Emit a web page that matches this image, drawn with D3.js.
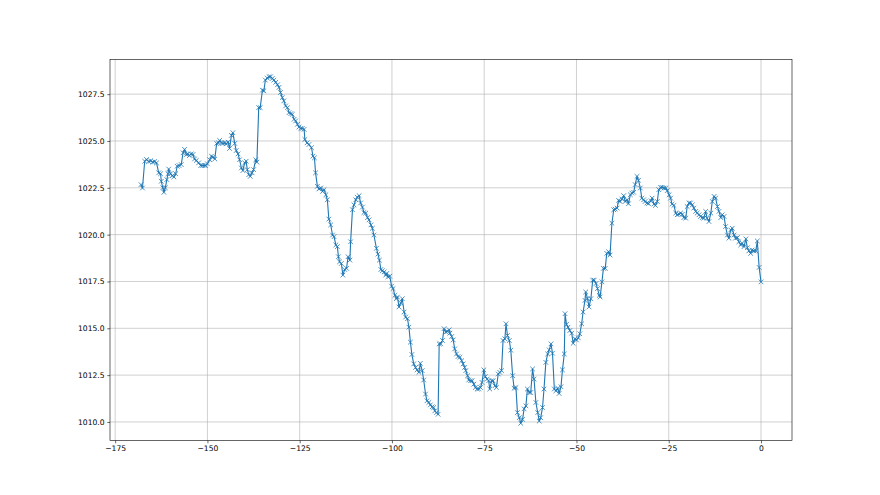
<!DOCTYPE html>
<html>
<head>
<meta charset="utf-8">
<script src="https://cdn.jsdelivr.net/npm/d3@7"></script>
<style>
  body { margin: 0; background: #fff; }
  svg { display: block; }
  .tick text { font-family: "DejaVu Sans", sans-serif; font-size: 7.6px; fill: #000; }
</style>
</head>
<body>
<svg width="880" height="495"></svg>
<script>
// hours relative to now
const hours = [
  -168.0, -167.6, -167.0, -166.5, -165.9, -165.4, -164.8, -164.3, -163.8, -163.2,
  -162.7, -162.5, -162.1, -161.8, -161.4, -161.0, -160.7, -160.5, -160.0, -159.5,
  -159.1, -158.6, -158.2, -157.7, -157.1, -156.6, -156.2, -155.7, -155.3, -154.9,
  -154.4, -153.9, -153.5, -153.0, -152.4, -151.8, -151.4, -150.9, -150.5, -150.0,
  -149.4, -148.9, -148.5, -148.0, -147.5, -147.0, -146.7, -146.2, -145.8, -145.3,
  -144.9, -144.4, -144.0, -143.5, -143.1, -142.6, -142.2, -141.7, -141.3, -140.8,
  -140.4, -139.9, -139.5, -139.2, -138.8, -138.4, -137.9, -137.5, -136.9, -136.6,
  -136.1, -135.7, -135.1, -134.7, -134.3, -133.8, -133.3, -132.9, -132.4, -132.0,
  -131.5, -131.0, -130.6, -130.2, -129.7, -129.3, -128.8, -128.3, -127.9, -127.4,
  -127.0, -126.5, -126.1, -125.6, -125.2, -124.7, -124.3, -123.8, -123.6, -123.0,
  -122.5, -121.8, -121.4, -121.0, -120.7, -120.2, -119.8, -119.3, -118.8, -118.4,
  -117.9, -117.5, -117.1, -116.6, -116.1, -115.7, -115.2, -114.8, -114.5, -114.2,
  -113.7, -113.3, -112.8, -112.3, -111.9, -111.4, -111.2, -110.7, -110.3, -109.8,
  -109.4, -108.9, -108.5, -108.0, -107.6, -107.1, -106.6, -106.2, -105.7, -105.3,
  -104.9, -104.2, -103.8, -103.4, -103.0, -102.6, -102.1, -101.7, -101.4, -101.1,
  -100.6, -100.1, -99.7, -99.2, -98.8, -98.5, -98.1, -97.6, -97.2, -96.7,
  -96.3, -95.8, -95.4, -95.0, -94.6, -94.1, -93.6, -93.2, -92.7, -92.3,
  -91.8, -91.4, -90.9, -90.5, -90.0, -89.6, -89.1, -88.7, -88.4, -87.9,
  -87.5, -87.2, -86.8, -86.3, -85.9, -85.4, -85.0, -84.5, -84.3, -83.8,
  -83.4, -83.0, -82.5, -82.1, -81.6, -81.1, -80.7, -80.3, -80.0, -79.5,
  -79.2, -78.7, -78.3, -77.8, -77.4, -76.9, -76.5, -76.0, -75.6, -75.1,
  -74.7, -74.2, -73.8, -73.5, -73.0, -72.6, -72.1, -71.7, -71.2, -70.8,
  -70.3, -69.9, -69.4, -69.1, -68.7, -68.2, -67.8, -67.3, -66.9, -66.4,
  -66.0, -65.5, -65.1, -64.6, -64.2, -63.7, -63.3, -62.8, -62.4, -61.9,
  -61.5, -61.0, -60.5, -60.1, -59.7, -59.2, -58.8, -58.3, -57.8, -57.4,
  -56.9, -56.5, -56.0, -55.6, -55.1, -54.7, -54.2, -53.8, -53.3, -53.1,
  -52.7, -52.3, -51.8, -51.3, -50.9, -50.4, -50.0, -49.5, -49.1, -48.6,
  -48.2, -47.7, -47.5, -47.0, -46.6, -46.1, -45.6, -45.2, -44.7, -44.3,
  -43.8, -43.6, -43.1, -42.7, -42.2, -41.8, -41.3, -40.9, -40.4, -39.9,
  -39.5, -39.0, -38.6, -38.2, -37.7, -37.2, -36.8, -36.3, -35.9, -35.4,
  -35.0, -34.5, -34.1, -33.6, -33.2, -32.7, -32.3, -31.8, -31.4, -30.9,
  -30.5, -29.8, -29.5, -29.0, -28.6, -28.1, -27.7, -27.2, -26.8, -26.3,
  -25.8, -25.4, -24.9, -24.5, -24.1, -23.6, -23.1, -22.7, -22.2, -21.8,
  -21.3, -20.9, -20.4, -20.0, -19.5, -19.1, -18.6, -18.2, -17.7, -17.3,
  -16.8, -16.4, -15.9, -15.5, -15.0, -14.6, -14.1, -13.6, -13.2, -12.7,
  -12.3, -11.8, -11.4, -10.9, -10.5, -10.0, -9.6, -9.1, -8.7, -8.2,
  -7.8, -7.3, -6.9, -6.4, -6.0, -5.5, -5.1, -4.6, -4.1, -3.7,
  -3.3, -2.8, -2.4, -1.9, -1.4, -1.0, -0.5, 0.0
];
// pressure, hPa
const pressure = [
  1022.67, 1022.49, 1023.92, 1024.01, 1023.90, 1023.94, 1023.87, 1023.90, 1023.83, 1023.30,
  1023.25, 1022.85, 1022.50, 1022.26, 1022.50, 1022.94, 1023.25, 1023.50, 1023.25, 1023.15,
  1023.08, 1023.25, 1023.65, 1023.69, 1023.74, 1024.37, 1024.55, 1024.28, 1024.31, 1024.22,
  1024.31, 1024.28, 1024.04, 1023.96, 1023.83, 1023.69, 1023.69, 1023.69, 1023.69, 1023.78,
  1024.00, 1024.19, 1024.13, 1024.04, 1024.87, 1024.90, 1025.03, 1024.90, 1024.87, 1024.90,
  1024.85, 1024.94, 1024.60, 1025.30, 1025.44, 1024.87, 1024.49, 1024.31, 1024.00, 1023.56,
  1023.42, 1023.83, 1023.92, 1023.47, 1023.20, 1023.11, 1023.30, 1023.47, 1024.00, 1023.87,
  1026.78, 1026.78, 1027.71, 1027.68, 1028.25, 1028.36, 1028.43, 1028.43, 1028.34, 1028.25,
  1028.13, 1028.00, 1027.86, 1027.59, 1027.32, 1027.14, 1026.87, 1026.78, 1026.51, 1026.46,
  1026.42, 1026.16, 1026.07, 1025.89, 1025.74, 1025.67, 1025.67, 1025.62, 1025.08, 1024.90,
  1024.81, 1024.64, 1024.19, 1024.10, 1023.30, 1022.58, 1022.44, 1022.49, 1022.31, 1022.40,
  1022.13, 1021.86, 1020.83, 1020.52, 1019.98, 1019.89, 1019.45, 1019.36, 1018.82, 1018.55,
  1018.46, 1017.84, 1018.14, 1018.20, 1018.82, 1018.64, 1019.62, 1021.33, 1021.59, 1021.86,
  1022.00, 1022.08, 1021.69, 1021.47, 1021.18, 1021.15, 1020.91, 1020.79, 1020.52, 1020.34,
  1019.98, 1019.27, 1018.96, 1018.64, 1018.14, 1018.07, 1018.01, 1017.84, 1017.93, 1017.75,
  1017.78, 1017.25, 1017.12, 1016.76, 1016.58, 1016.67, 1016.14, 1016.35, 1016.58, 1015.87,
  1015.60, 1015.51, 1015.06, 1014.26, 1013.60, 1013.10, 1012.91, 1012.78, 1012.65, 1013.13,
  1012.74, 1012.24, 1011.49, 1011.13, 1011.04, 1010.91, 1010.81, 1010.77, 1010.59, 1010.50,
  1010.41, 1014.17, 1014.17, 1014.35, 1014.98, 1014.80, 1014.83, 1014.92, 1014.74, 1014.56,
  1014.38, 1013.90, 1013.63, 1013.49, 1013.45, 1013.27, 1013.10, 1012.91, 1012.74, 1012.47,
  1012.24, 1012.20, 1012.20, 1012.02, 1011.84, 1011.76, 1011.76, 1011.84, 1012.11, 1012.78,
  1012.42, 1012.29, 1012.20, 1011.76, 1012.20, 1012.20, 1011.93, 1011.84, 1012.56, 1012.65,
  1012.74, 1014.35, 1014.44, 1015.24, 1014.62, 1014.35, 1013.83, 1012.47, 1011.80, 1011.84,
  1010.50, 1010.23, 1009.93, 1010.14, 1010.70, 1010.86, 1011.76, 1011.57, 1011.57, 1012.83,
  1012.29, 1011.04, 1010.50, 1010.05, 1010.23, 1010.77, 1011.76, 1013.18, 1013.63, 1013.85,
  1014.17, 1013.67, 1011.76, 1011.66, 1011.80, 1011.52, 1011.88, 1012.78, 1013.63, 1015.78,
  1015.21, 1015.06, 1014.88, 1014.74, 1014.20, 1014.44, 1014.38, 1014.49, 1014.71, 1015.24,
  1015.87, 1016.49, 1016.94, 1016.58, 1016.14, 1016.58, 1017.57, 1017.57, 1017.39, 1017.12,
  1016.76, 1016.67, 1017.48, 1018.20, 1018.20, 1019.00, 1019.09, 1018.91, 1020.61, 1021.33,
  1021.36, 1021.42, 1021.83, 1021.77, 1021.90, 1022.08, 1021.77, 1021.86, 1021.65, 1022.13,
  1022.22, 1022.26, 1022.67, 1023.11, 1022.90, 1022.49, 1021.95, 1021.86, 1021.77, 1021.69,
  1021.66, 1021.81, 1021.95, 1021.63, 1021.56, 1021.77, 1022.40, 1022.52, 1022.52, 1022.49,
  1022.49, 1022.35, 1022.13, 1021.95, 1021.63, 1021.56, 1021.15, 1021.06, 1021.09, 1021.15,
  1021.09, 1020.91, 1020.88, 1021.50, 1021.69, 1021.69, 1021.59, 1021.42, 1021.24, 1021.15,
  1021.06, 1020.97, 1020.91, 1020.88, 1021.24, 1020.88, 1020.70, 1021.15, 1021.77, 1022.04,
  1021.95, 1021.50, 1021.24, 1020.91, 1021.06, 1020.97, 1020.43, 1019.98, 1019.81, 1020.25,
  1020.34, 1019.98, 1019.81, 1019.84, 1019.62, 1019.45, 1019.54, 1019.36, 1019.77, 1019.30,
  1019.13, 1019.00, 1019.18, 1019.13, 1019.13, 1019.66, 1018.25, 1017.48
];
const xTicks = [-175, -150, -125, -100, -75, -50, -25, 0];
const yTicks = [1010.0, 1012.5, 1015.0, 1017.5, 1020.0, 1022.5, 1025.0, 1027.5];

const svg = d3.select('svg');
const margin = { top: 59.4, right: 88, bottom: 54.4, left: 110 };
const width = 880 - margin.left - margin.right;
const height = 495 - margin.top - margin.bottom;
const color = '#1f77b4';

const g = svg.append('g').attr('transform', `translate(${margin.left},${margin.top})`);

// matplotlib style 5% padding
const xExt = d3.extent(hours), yExt = d3.extent(pressure);
const xPad = (xExt[1] - xExt[0]) * 0.05, yPad = (yExt[1] - yExt[0]) * 0.05;
const x = d3.scaleLinear().domain([xExt[0] - xPad, xExt[1] + xPad]).range([0, width]);
const y = d3.scaleLinear().domain([yExt[0] - yPad, yExt[1] + yPad]).range([height, 0]);

// grid
g.append('g').selectAll('line').data(xTicks).enter().append('line')
  .attr('x1', d => x(d)).attr('x2', d => x(d)).attr('y1', 0).attr('y2', height)
  .attr('stroke', '#b0b0b0').attr('stroke-width', 0.6);
g.append('g').selectAll('line').data(yTicks).enter().append('line')
  .attr('y1', d => y(d)).attr('y2', d => y(d)).attr('x1', 0).attr('x2', width)
  .attr('stroke', '#b0b0b0').attr('stroke-width', 0.6);

// line + x markers
const line = d3.line().x((d, i) => x(hours[i])).y(d => y(d));
g.append('path').datum(pressure)
  .attr('d', line).attr('fill', 'none')
  .attr('stroke', color).attr('stroke-width', 1.1).attr('stroke-linejoin', 'round');

const m = 2.3;
g.append('g').selectAll('path').data(pressure).enter().append('path')
  .attr('d', (d, i) => {
    const px = x(hours[i]), py = y(d);
    return `M${px - m},${py - m}L${px + m},${py + m}M${px - m},${py + m}L${px + m},${py - m}`;
  })
  .attr('stroke', color).attr('stroke-width', 0.8).attr('fill', 'none');

// axes
const xAxis = d3.axisBottom(x).tickValues(xTicks).tickSize(2.7).tickPadding(2.7).tickFormat(d3.format('d'));
const yAxis = d3.axisLeft(y).tickValues(yTicks).tickSize(2.7).tickPadding(2.7).tickFormat(d3.format('.1f'));
const xg = g.append('g').attr('transform', `translate(0,${height})`).call(xAxis);
const yg = g.append('g').call(yAxis);
[xg, yg].forEach(a => {
  a.select('.domain').remove();
  a.selectAll('.tick line').attr('stroke', '#000').attr('stroke-width', 0.6);
});
xg.selectAll('.tick text').text(d => d < 0 ? '\u2212' + Math.abs(d) : d);

// frame
g.append('rect').attr('width', width).attr('height', height)
  .attr('fill', 'none').attr('stroke', '#000').attr('stroke-width', 0.6);
</script>
</body>
</html>
